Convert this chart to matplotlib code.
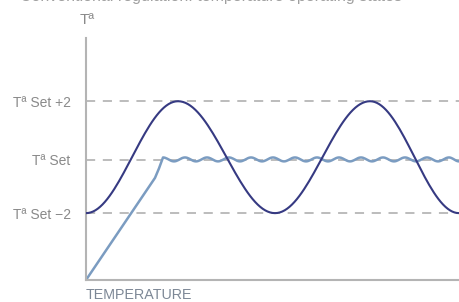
from matplotlib import pyplot as plt
import numpy as np

# levels (axis units: 0 = set point)
LEVEL_LABELS = ['Tª Set −2', 'Tª Set', 'Tª Set +2']
LEVEL_VALUES = [-1.9, 0.0, 2.1]

# conventional control: extrema of the big swing (x, y)
swing_x = [0, 92, 189, 284, 373]
swing_y = [-1.9, 2.1, -1.9, 2.1, -1.9]

# smart control: ramp up, then tiny ripple around the set point
ramp_x = [0, 69]
ramp_y = [-4.29, -0.64]
ripple_x = [77, 88, 99, 110, 121, 132, 143, 154, 165, 176, 187, 198, 209, 220,
            231, 242, 253, 264, 275, 286, 297, 308, 319, 330, 341, 352, 363, 373]
ripple_y = [0.09, -0.05] * 14

COLOR_AXIS = '#b4b4b4'
COLOR_TEXT = '#8a8a8a'
COLOR_SWING = '#363a82'
COLOR_SMART = '#7b9cc1'


def eased(xs, ys, n=40):
    """join extrema with half-cosine segments"""
    out_x, out_y = [], []
    for i in range(len(xs) - 1):
        t = np.linspace(0, 1, n)
        out_x.extend(xs[i] + (xs[i + 1] - xs[i]) * t)
        out_y.extend(ys[i] + (ys[i + 1] - ys[i]) * (1 - np.cos(np.pi * t)) / 2)
    return out_x, out_y


plt.rcParams['font.family'] = ['Liberation Sans', 'DejaVu Sans']

fig = plt.figure(figsize=(4.59, 3.02), dpi=100)
ax = fig.add_axes([86 / 459, 22 / 302, 373 / 459, 242 / 302])
ax.set_xlim(0, 373)
ax.set_ylim(-4.29, 4.36)

for v in LEVEL_VALUES:
    ax.axhline(v, color='#aaaaaa', lw=1.1, ls=(0, (6, 5)), zorder=1)

sx, sy = eased(swing_x, swing_y)
ax.plot(sx, sy, color=COLOR_SWING, lw=1.5, zorder=3, solid_capstyle='butt')

rx, ry = eased(ripple_x, ripple_y, n=12)
ax.plot(ramp_x + [73, 77] + rx[1:], ramp_y + [-0.3, 0.09] + ry[1:],
        color=COLOR_SMART, lw=1.8, zorder=2)

for s in ['top', 'right']:
    ax.spines[s].set_visible(False)
for s in ['left', 'bottom']:
    ax.spines[s].set_color(COLOR_AXIS)
    ax.spines[s].set_linewidth(1.5)
ax.set_xticks([])
ax.set_yticks(LEVEL_VALUES)
ax.set_yticklabels(LEVEL_LABELS, color=COLOR_TEXT, fontsize=10)
ax.tick_params(axis='y', length=0, pad=11)

fig.text(80 / 459, 1 - 24 / 302, 'Tª', color=COLOR_TEXT, fontsize=11)
fig.text(86 / 459, 1 - 299 / 302, 'TEMPERATURE', color='#7d8896', fontsize=10.3)
fig.text(20 / 459, 1 - 1.5 / 302, 'Conventional regulation: temperature operating states',
         color='#a0a0a0', fontsize=11.5, va='baseline')

fig.savefig('out.png', dpi=100)
